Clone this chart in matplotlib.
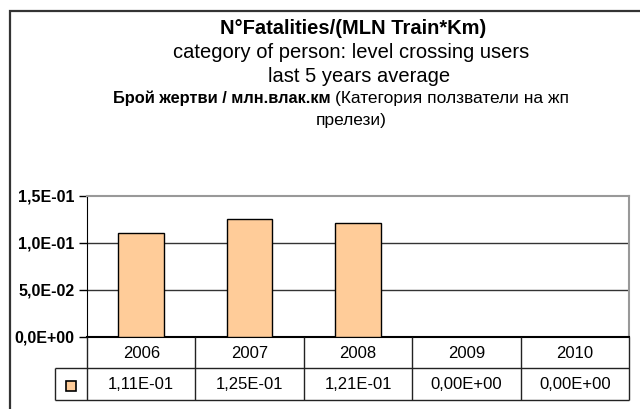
import matplotlib.pyplot as plt
from matplotlib.patches import Rectangle

years = ['2006', '2007', '2008', '2009', '2010']
fatalities = [0.111, 0.125, 0.121, 0.0, 0.0]
value_labels = ['1,11E-01', '1,25E-01', '1,21E-01', '0,00E+00', '0,00E+00']
y_ticks = [0.0, 0.05, 0.10, 0.15]
y_tick_labels = ['0,0E+00', '5,0E-02', '1,0E-01', '1,5E-01']

plt.rcParams['font.family'] = ['Liberation Sans', 'DejaVu Sans']

W, H = 640, 409
fig = plt.figure(figsize=(W / 100, H / 100), dpi=100)


def box(l, t, r, b):
    # pixel box -> figure fraction
    return [l / W, 1 - b / H, (r - l) / W, (b - t) / H]


def ftext(x, y, s, **kw):
    fig.text(x / W, 1 - y / H, s, va='center', **kw)


# outer chart frame (runs off the right and bottom edges)
fig.patches.append(Rectangle((9.5 / W, -0.1), 1, 1.1 - 11 / H, transform=fig.transFigure,
                             fill=False, ec='#333333', lw=1.6))

# titles
ftext(353, 28, 'N°Fatalities/(MLN Train*Km)', ha='center', fontsize=14.5, fontweight='bold')
ftext(351, 53, 'category of person: level crossing users', ha='center', fontsize=14.5)
ftext(359, 77, 'last 5 years average', ha='center', fontsize=14.5)
ftext(331, 98, 'Брой жертви / млн.влак.км', ha='right', fontsize=11.8, fontweight='bold')
ftext(335, 98, '(Категория ползватели на жп', ha='left', fontsize=12.5)
ftext(351, 120, 'прелези)', ha='center', fontsize=12.5)

# main plot
ax = fig.add_axes(box(87, 196, 629, 336.5))
x = list(range(len(years)))
ax.bar(x, fatalities, width=0.42, color='#FFCC99', edgecolor='black', lw=1, zorder=3)
ax.hlines(y_ticks[1:3], -0.5, 4.5, color='#333333', lw=1, zorder=1)
ax.set_xlim(-0.5, 4.5)
ax.set_ylim(0, 0.15)
ax.set_xticks([])
ax.set_yticks(y_ticks)
ax.set_yticklabels(y_tick_labels, fontsize=11.5, fontweight='bold')
ax.tick_params(axis='y', direction='out', length=6, width=1, pad=3)
for side in ['top', 'right']:
    ax.spines[side].set_color('#999999')
    ax.spines[side].set_linewidth(1.5)
ax.spines['left'].set_color('black')
ax.spines['bottom'].set_color('black')
ax.spines['bottom'].set_linewidth(1.5)

# data table under the plot
cell = (629 - 87) / len(years)
key_left = -0.5 - (87 - 55) / cell
tab = fig.add_axes(box(55, 336.5, 629, 400))
tab.set_xlim(key_left, 4.5)
tab.set_ylim(0, 2)
tab.axis('off')
lc = '#222222'
tab.hlines([1, 0], key_left, 4.5, color=lc, lw=1, clip_on=False)
tab.vlines([i - 0.5 for i in range(len(years) + 1)], 0, 2, color=lc, lw=1, clip_on=False)
tab.vlines([key_left], 0, 1, color=lc, lw=1, clip_on=False)
for i, (yr, val) in enumerate(zip(years, value_labels)):
    tab.text(i, 1.45, yr, ha='center', va='center', fontsize=12)
    tab.text(i, 0.5, val, ha='center', va='center', fontsize=12)
tab.plot([(key_left - 0.5) / 2], [0.45], marker='s', ms=7, mfc='#FFCC99', mec='black',
         mew=1.2, clip_on=False)

fig.savefig('out.png', dpi=100)
